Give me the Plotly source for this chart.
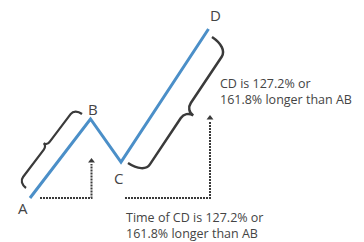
import math
import plotly.graph_objects as go

# ---- data (x = time, y = price; units match the 364x242 canvas) ----
labels = ["A", "B", "C", "D"]
time_vals = [30, 90.5, 121, 208.5]
price_vals = [44, 123, 80, 213]

text_cd = "CD is 127.2% or<br>161.8% longer than AB"
text_time = "Time of CD is 127.2% or<br>161.8% longer than AB"

BLUE = "#4b8fc8"
DARK = "#3a3a3a"
TEXT = "#444444"
FONT = "Open Sans"

pts = dict(zip(labels, zip(time_vals, price_vals)))
A, B, C, D = (pts[k] for k in labels)

fig = go.Figure()

# main ABCD leg line
fig.add_trace(go.Scatter(x=time_vals, y=price_vals, mode="lines",
                         line=dict(color=BLUE, width=3), hoverinfo="skip",
                         showlegend=False))

# dotted time projections with arrowheads
def dotted_arrow(x0, x1, y0, y1):
    fig.add_trace(go.Scatter(x=[x0, x1, x1], y=[y0, y0, y1 - 3], mode="lines",
                             line=dict(color=DARK, width=2, dash="2px,1px"),
                             hoverinfo="skip", showlegend=False))
    fig.add_trace(go.Scatter(x=[x1], y=[y1], mode="markers",
                             marker=dict(symbol="triangle-up", size=6, color=DARK),
                             hoverinfo="skip", showlegend=False))

dotted_arrow(A[0] + 10, B[0] + 1, A[1], C[1] + 1)
dotted_arrow(C[0] + 4, D[0] + 1.5, A[1], B[1] + 1)

# curly braces
def brace(p1, p2, side, h, t, r, s):
    dx, dy = p2[0] - p1[0], p2[1] - p1[1]
    L = math.hypot(dx, dy)
    ux, uy = dx / L, dy / L
    nx, ny = (-uy, ux) if side > 0 else (uy, -ux)

    def P(u, v):
        return f"{p1[0] + u * ux + v * nx:.2f},{p1[1] + u * uy + v * ny:.2f}"

    m = L / 2
    return (f"M{P(0, 0)} C{P(0, 0.6 * h)} {P(0.4 * r, h)} {P(r, h)} "
            f"L{P(m - s, h)} C{P(m - 0.45 * s, h)} {P(m, h + 0.4 * t)} {P(m, h + t)} "
            f"C{P(m, h + 0.4 * t)} {P(m + 0.45 * s, h)} {P(m + s, h)} "
            f"L{P(L - r, h)} C{P(L - 0.4 * r, h)} {P(L, 0.6 * h)} {P(L, 0)}")

shapes = [
    dict(type="path", xref="x", yref="y",
         path=brace((A[0] - 4, A[1] + 10), (B[0] - 8.5, B[1] + 5), 1, 9, 4, 7, 5),
         line=dict(color=DARK, width=2.2)),
    dict(type="path", xref="x", yref="y",
         path=brace((C[0] + 7, C[1] - 1), (D[0] + 3.5, D[1] - 8), -1, 19, 9, 11, 9),
         line=dict(color=DARK, width=2.5)),
]

annotations = []
offsets = {"A": (-7, -10), "B": (2, 10), "C": (-3, -16), "D": (7, 14)}
for k in labels:
    ox, oy = offsets[k]
    annotations.append(dict(x=pts[k][0] + ox, y=pts[k][1] + oy, text=k,
                            showarrow=False, xanchor="center", yanchor="middle",
                            font=dict(family=FONT, size=15, color=TEXT)))

annotations.append(dict(x=D[0] + 9, y=D[1] - 62, text=text_cd, showarrow=False,
                        xanchor="left", yanchor="middle", align="left",
                        font=dict(family=FONT, size=12.5, color=TEXT)))
annotations.append(dict(x=C[0] + 3, y=A[1] - 27, text=text_time, showarrow=False,
                        xanchor="left", yanchor="middle", align="left",
                        font=dict(family=FONT, size=12.5, color=TEXT)))

fig.update_layout(
    width=364, height=242, margin=dict(l=0, r=0, t=0, b=0),
    paper_bgcolor="white", plot_bgcolor="white",
    xaxis=dict(range=[0, 364], visible=False, fixedrange=True),
    yaxis=dict(range=[0, 242], visible=False, fixedrange=True),
    shapes=shapes, annotations=annotations, showlegend=False,
)

fig.write_html("out.html", config={"displayModeBar": False},
               post_script="document.body.style.margin='0';")
